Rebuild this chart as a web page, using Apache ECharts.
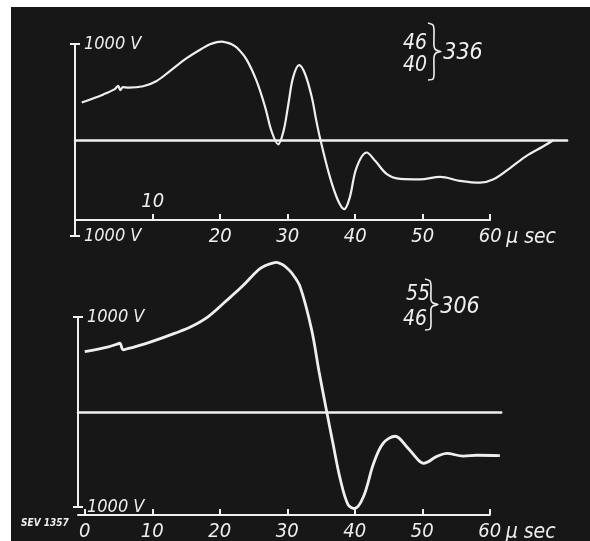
<!DOCTYPE html>
<html>
<head>
<meta charset="utf-8">
<style>
  html, body { margin: 0; padding: 0; background: #fff; }
  #chart {
    width: 590px;
    height: 541px;
    background: linear-gradient(#171717, #171717) 11px 7px / 579px 534px no-repeat, #fff;
  }
</style>
<script src="https://cdn.jsdelivr.net/npm/echarts@6/dist/echarts.min.js"></script>
</head>
<body>
<div id="chart"></div>
<script>
// upper oscillogram (46/40 -> 336), time in µs, voltage in V
const topTime = [-0.5, 2.7, 4.4, 4.9, 5.2, 5.6, 6.4, 8.6, 10.6, 12.6, 15.1, 17.5, 18.5, 19.5, 20.2, 21.0, 21.7,
  22.5, 23.9, 25.4, 26.7, 27.6, 28.6, 29.4, 30.1, 30.8, 31.7, 32.6, 33.6, 34.2, 34.8, 36.3, 37.5, 38.4, 39.2,
  40.2, 41.7, 43.0, 44.7, 46.7, 49.6, 52.6, 55.5, 58.5, 60.5, 63.0, 65.4, 67.9, 69.4]
const topVolt = [390, 475, 530, 565, 520, 550, 545, 560, 615, 720, 855, 960, 997, 1020, 1024, 1014, 997,
  960, 840, 615, 335, 95, -45, 95, 370, 650, 780, 685, 440, 220, 20, -395, -635, -720, -600,
  -290, -130, -220, -355, -405, -410, -385, -425, -445, -410, -290, -165, -65, 0]

// lower oscillogram (55/46 -> 306)
const bottomTime = [0.0, 3.5, 5.0, 5.2, 5.7, 6.5, 7.4, 9.9, 13.4, 15.8, 18.3, 20.8, 23.3, 25.7, 26.7, 27.7,
  28.4, 29.2, 29.9, 30.7, 31.9, 33.6, 34.7, 35.8, 36.8, 37.8, 39.0, 40.0, 41.3, 42.8, 44.2, 46.0, 47.7,
  49.4, 50.2, 52.1, 53.6, 56.1, 58.1, 61.5]
const bottomVolt = [635, 685, 720, 725, 655, 670, 685, 740, 830, 900, 1005, 1160, 1320, 1495, 1540, 1565,
  1576, 1555, 1519, 1460, 1320, 870, 430, 20, -340, -690, -975, -1015, -890, -540, -330, -255, -365,
  -505, -540, -470, -435, -465, -455, -460]

const topTicks = [10, 20, 30, 40, 50, 60]
const topLabels = [20, 30, 40, 50, 60]
const bottomTicks = [0, 10, 20, 30, 40, 50, 60]
const voltTicks = [-1000, 1000]

const INK = '#efefef'
const FONT = "'DejaVu Sans Condensed', 'Liberation Sans Narrow', 'DejaVu Sans', sans-serif"
const PX_PER_US = 6.75 // horizontal sweep, same for both traces

const zip = (xs, ys) => xs.map((x, i) => [x, ys[i]])
const textStyle = size => ({ color: INK, fontFamily: FONT, fontStyle: 'italic', fontSize: size })

function traceGrid(left, top, height, min, max) {
  return { left, top, height, width: (max - min) * PX_PER_US, outerBoundsMode: 'none' }
}

// zero line of the trace = x axis drawn on zero
function baseAxis(gridIndex, min, max) {
  return {
    type: 'value', gridIndex, min, max,
    axisLine: { onZero: true, lineStyle: { color: INK, width: 2.5 } },
    axisTick: { show: false },
    axisLabel: { show: false },
    splitLine: { show: false }
  }
}

function timeAxis(gridIndex, min, ticks, labels) {
  return {
    type: 'value', gridIndex, min, max: 60, position: 'bottom',
    name: 'µ sec',
    nameLocation: 'end',
    nameGap: 16,
    nameTextStyle: { ...textStyle(21), align: 'left', verticalAlign: 'top', padding: [7, 0, 0, 0] },
    axisLine: { onZero: false, lineStyle: { color: INK, width: 2 } },
    axisTick: { inside: true, length: 6, customValues: ticks, lineStyle: { color: INK, width: 2 } },
    axisLabel: { customValues: labels, margin: 7, ...textStyle(20) },
    splitLine: { show: false }
  }
}

function voltAxis(gridIndex) {
  return {
    type: 'value', gridIndex, min: -1000, max: 1000, position: 'left', offset: 0,
    axisLine: { onZero: false, lineStyle: { color: INK, width: 2 } },
    axisTick: { customValues: voltTicks, length: 5, lineStyle: { color: INK, width: 2 } },
    axisLabel: { inside: true, customValues: voltTicks, margin: 9, formatter: () => '1000 V', ...textStyle(18) },
    splitLine: { show: false }
  }
}

// inner half of the end caps
function capAxis(gridIndex) {
  return {
    type: 'value', gridIndex, min: -1000, max: 1000, position: 'left', offset: 0,
    axisLine: { show: false, onZero: false },
    axisTick: { inside: true, customValues: voltTicks, length: 5, lineStyle: { color: INK, width: 2 } },
    axisLabel: { show: false },
    splitLine: { show: false }
  }
}

const hiddenAxis = gridIndex => ({ type: 'value', gridIndex, min: 0, max: 1, show: false })

function trace(xAxisIndex, yAxisIndex, data, width) {
  return {
    type: 'line', xAxisIndex, yAxisIndex, data,
    smooth: 0.35, showSymbol: false, clip: false, silent: true,
    lineStyle: { color: INK, width }
  }
}

const label = (text, x, y, size, extra) => ({
  type: 'text', x, y, silent: true,
  style: { text, fill: INK, align: 'center', verticalAlign: 'middle', font: `italic ${size}px ${FONT}`, ...extra }
})

const brace = points => ({
  type: 'polyline', silent: true,
  shape: { points, smooth: 0.2 },
  style: { stroke: INK, lineWidth: 1.6, fill: null }
})

const chart = echarts.init(document.getElementById('chart'))
chart.setOption({
  animation: false,
  grid: [
    traceGrid(75, 44, 192, -1.5, 71.4),
    traceGrid(75, 219, 1, -1.5, 60),
    traceGrid(78, 317, 190, -1, 61.7),
    traceGrid(78, 514, 1, -1, 60)
  ],
  xAxis: [
    baseAxis(0, -1.5, 71.4),
    timeAxis(1, -1.5, topTicks, topLabels),
    {
      type: 'value', gridIndex: 1, min: -1.5, max: 60, position: 'bottom',
      axisLine: { show: false, onZero: false },
      axisTick: { show: false },
      axisLabel: { inside: true, customValues: [10], margin: 8, ...textStyle(20) },
      splitLine: { show: false }
    },
    baseAxis(2, -1, 61.7),
    timeAxis(3, -1, bottomTicks, bottomTicks)
  ],
  yAxis: [
    voltAxis(0), capAxis(0), hiddenAxis(1),
    voltAxis(2), capAxis(2), hiddenAxis(3)
  ],
  series: [
    trace(0, 0, zip(topTime, topVolt), 2.2),
    trace(3, 3, zip(bottomTime, bottomVolt), 2.8)
  ],
  graphic: [
    label('46', 415, 44, 21),
    label('40', 415, 66, 21),
    brace([[428, 23], [433, 25], [434, 30], [434, 46], [436, 50], [441, 51.5], [436, 53], [434, 57], [434, 74], [433, 79], [428, 80]]),
    label('336', 463, 53, 23),
    label('55', 418, 295, 21),
    label('46', 415, 320, 21),
    brace([[425, 279], [430, 281], [431, 286], [431, 300], [433, 303], [438, 304.5], [433, 306], [431, 309], [431, 324], [430, 329], [425, 330]]),
    label('306', 460, 307, 23),
    label('SEV 1357', 45, 523, 10, { font: `italic bold 10px ${FONT}` })
  ]
})
</script>
</body>
</html>
